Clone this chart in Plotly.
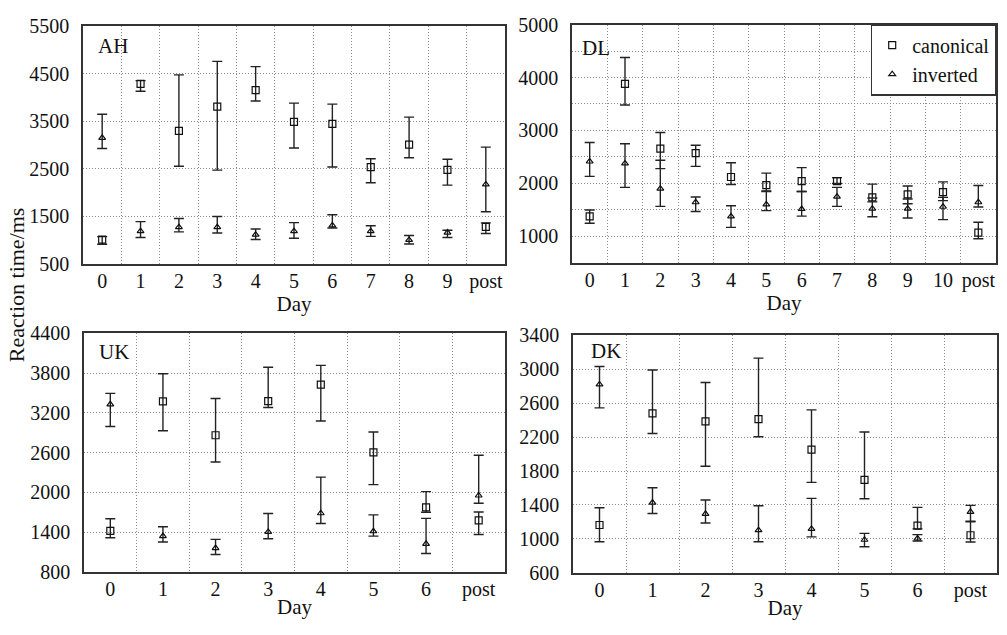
import plotly.graph_objects as go

# ---------------- data ----------------
days_AH = ["0", "1", "2", "3", "4", "5", "6", "7", "8", "9", "post"]
AH_can_mean = [1010, 4290, 3300, 3810, 4160, 3490, 3450, 2540, 3010, 2480, 1280]
AH_can_upper = [1075, 4360, 4480, 4765, 4655, 3885, 3865, 2715, 3590, 2705, 1365]
AH_can_lower = [915, 4135, 2555, 2475, 3930, 2940, 2540, 2210, 2735, 2160, 1140]
AH_inv_mean = [3155, 1190, 1275, 1275, 1115, 1190, 1310, 1190, 1005, 1160, 2175]
AH_inv_upper = [3650, 1390, 1455, 1500, 1235, 1370, 1535, 1305, 1100, 1210, 2960]
AH_inv_lower = [2930, 1055, 1175, 1150, 1015, 1040, 1255, 1080, 920, 1055, 1600]

days_DL = ["0", "1", "2", "3", "4", "5", "6", "7", "8", "9", "10", "post"]
DL_can_mean = [1378, 3878, 2659, 2573, 2122, 1970, 2043, 2043, 1738, 1793, 1835, 1073]
DL_can_upper = [1500, 4378, 2963, 2720, 2390, 2195, 2299, 2110, 1988, 1951, 2030, 1268]
DL_can_lower = [1250, 3482, 2280, 2323, 1982, 1860, 1848, 2000, 1652, 1616, 1677, 957]
DL_inv_mean = [2415, 2378, 1902, 1646, 1378, 1604, 1518, 1750, 1524, 1524, 1561, 1646]
DL_inv_upper = [2774, 2750, 2439, 1744, 1579, 1848, 1848, 1927, 1726, 1707, 1738, 1963]
DL_inv_lower = [2134, 1927, 1567, 1470, 1171, 1488, 1384, 1567, 1372, 1348, 1317, 1555]

days_UK = ["0", "1", "2", "3", "4", "5", "6", "post"]
UK_can_mean = [1418, 3374, 2863, 3378, 3627, 2605, 1773, 1578]
UK_can_upper = [1603, 3792, 3417, 3889, 3918, 2911, 2011, 1705]
UK_can_lower = [1316, 2931, 2459, 3281, 3077, 2118, 1700, 1364]
UK_inv_mean = [3330, 1340, 1160, 1403, 1685, 1413, 1223, 1953]
UK_inv_upper = [3495, 1481, 1291, 1681, 2230, 1661, 1608, 2561]
UK_inv_lower = [2994, 1252, 1063, 1301, 1530, 1340, 1077, 1836]

days_DK = ["0", "1", "2", "3", "4", "5", "6", "post"]
DK_can_mean = [1164, 2481, 2386, 2413, 2053, 1697, 1156, 1043]
DK_can_upper = [1368, 2991, 2844, 3131, 2522, 2261, 1372, 1209]
DK_can_lower = [967, 2242, 1856, 2204, 1667, 1474, 1118, 963]
DK_inv_mean = [2821, 1429, 1296, 1103, 1118, 990, 1005, 1319]
DK_inv_upper = [3033, 1603, 1459, 1391, 1478, 1065, 1050, 1395]
DK_inv_lower = [2545, 1300, 1187, 967, 1024, 907, 975, 1202]

panels = [
    ("AH", days_AH, AH_can_mean, AH_can_upper, AH_can_lower, AH_inv_mean, AH_inv_upper, AH_inv_lower),
    ("DL", days_DL, DL_can_mean, DL_can_upper, DL_can_lower, DL_inv_mean, DL_inv_upper, DL_inv_lower),
    ("UK", days_UK, UK_can_mean, UK_can_upper, UK_can_lower, UK_inv_mean, UK_inv_upper, UK_inv_lower),
    ("DK", days_DK, DK_can_mean, DK_can_upper, DK_can_lower, DK_inv_mean, DK_inv_upper, DK_inv_lower),
]

# ---------------- layout geometry (pixels) ----------------
W, H = 1007, 635
boxes = {  # x0, x1, ytop, ybottom
    "AH": (83, 505, 16, 262),
    "DL": (572, 996, 14, 261),
    "UK": (84, 505, 334, 581),
    "DK": (573, 997, 336, 582),
}
yaxes_cfg = {
    "AH": dict(range=[500, 5500], tick0=500, dtick=1000, minor=None),
    "DL": dict(range=[500, 5000], tick0=1000, dtick=1000, minor=500),
    "UK": dict(range=[800, 4400], tick0=800, dtick=600, minor=None),
    "DK": dict(range=[600, 3400], tick0=600, dtick=400, minor=None),
}
label_pos = {"AH": (0.031, 0.919), "DL": (0.02, 0.9), "UK": (0.031, 0.923), "DK": (0.038, 0.935)}

FONT = "'Liberation Serif', 'Times New Roman', Times, 'DejaVu Serif', serif"
INK = "#111111"
GRID = "#8a8a8a"
DASH = "1px,2px"

fig = go.Figure()
layout = {}
annotations = []

for i, (name, days, cm, cu, cl, im, iu, il) in enumerate(panels):
    ax = "" if i == 0 else str(i + 1)
    x0, x1, yt, yb = boxes[name]
    cfg = yaxes_cfg[name]

    err_kw = dict(type="data", symmetric=False, width=5, thickness=1.4, color="#222222")

    fig.add_trace(go.Scatter(
        x=days, y=cm, mode="markers", name="canonical",
        marker=dict(symbol="square-open", size=7, color=INK, line=dict(width=1.2, color=INK)),
        error_y=dict(array=[u - m for u, m in zip(cu, cm)],
                     arrayminus=[m - l for m, l in zip(cm, cl)], **err_kw),
        xaxis="x" + ax, yaxis="y" + ax, showlegend=(i == 0), legendgroup="c",
    ))
    fig.add_trace(go.Scatter(
        x=days, y=im, mode="markers", name="inverted",
        marker=dict(symbol="triangle-up-open", size=6, color=INK, line=dict(width=1.2, color=INK)),
        error_y=dict(array=[u - m for u, m in zip(iu, im)],
                     arrayminus=[m - l for m, l in zip(im, il)], **err_kw),
        xaxis="x" + ax, yaxis="y" + ax, showlegend=(i == 0), legendgroup="i",
    ))

    layout["xaxis" + ax] = dict(
        domain=[x0 / W, x1 / W], anchor="y" + ax, type="category",
        categoryorder="array", categoryarray=days,
        range=[-0.5, len(days) - 0.5], tickson="boundaries", tickangle=0,
        ticklabeloverflow="allow",
        showgrid=True, gridcolor=GRID, griddash=DASH, gridwidth=1,
        ticks="", showline=True, linecolor="#333333", linewidth=1.5, mirror=True,
        tickfont=dict(family=FONT, size=20, color=INK), ticklabelstandoff=-2,
        title=dict(text="Day", font=dict(family=FONT, size=21, color=INK), standoff=0),
        zeroline=False,
    )
    ydict = dict(
        domain=[1 - yb / H, 1 - yt / H], anchor="x" + ax,
        range=cfg["range"], tick0=cfg["tick0"], dtick=cfg["dtick"],
        showgrid=True, gridcolor=GRID, griddash=DASH, gridwidth=1,
        ticks="", showline=True, linecolor="#333333", linewidth=1.5, mirror=True,
        tickfont=dict(family=FONT, size=20, color=INK), ticklabelstandoff=8,
        zeroline=False,
    )
    if cfg["minor"]:
        ydict["minor"] = dict(dtick=cfg["minor"], tick0=500, showgrid=True,
                              gridcolor=GRID, griddash=DASH, gridwidth=1, ticks="")
    layout["yaxis" + ax] = ydict

    lx, ly = label_pos[name]
    annotations.append(dict(
        text=name, xref="x" + ax + " domain", yref="y" + ax + " domain",
        x=lx, y=ly, xanchor="left", yanchor="middle", showarrow=False,
        font=dict(family=FONT, size=21, color=INK),
    ))

annotations.append(dict(
    text="Reaction time/ms", xref="paper", yref="paper",
    x=16 / W, y=1 - 284 / H, textangle=-90, showarrow=False,
    xanchor="center", yanchor="middle",
    font=dict(family=FONT, size=22, color=INK),
))

fig.update_layout(
    width=W, height=H, margin=dict(l=0, r=0, t=0, b=0),
    paper_bgcolor="white", plot_bgcolor="white",
    font=dict(family=FONT, color=INK),
    annotations=annotations,
    legend=dict(
        x=996 / W, y=1 - 14 / H, xanchor="right", yanchor="top",
        bgcolor="white", bordercolor="#333333", borderwidth=1.2,
        font=dict(family=FONT, size=20, color=INK),
        itemwidth=30, tracegroupgap=0, itemsizing="trace",
    ),
    **layout,
)

# remove the browser's default 8px body margin so the figure sits at (0, 0); hide the modebar
fig.write_html(
    "out.html",
    config={"displayModeBar": False},
    post_script="document.body.style.margin='0';document.body.style.overflow='hidden';",
)
